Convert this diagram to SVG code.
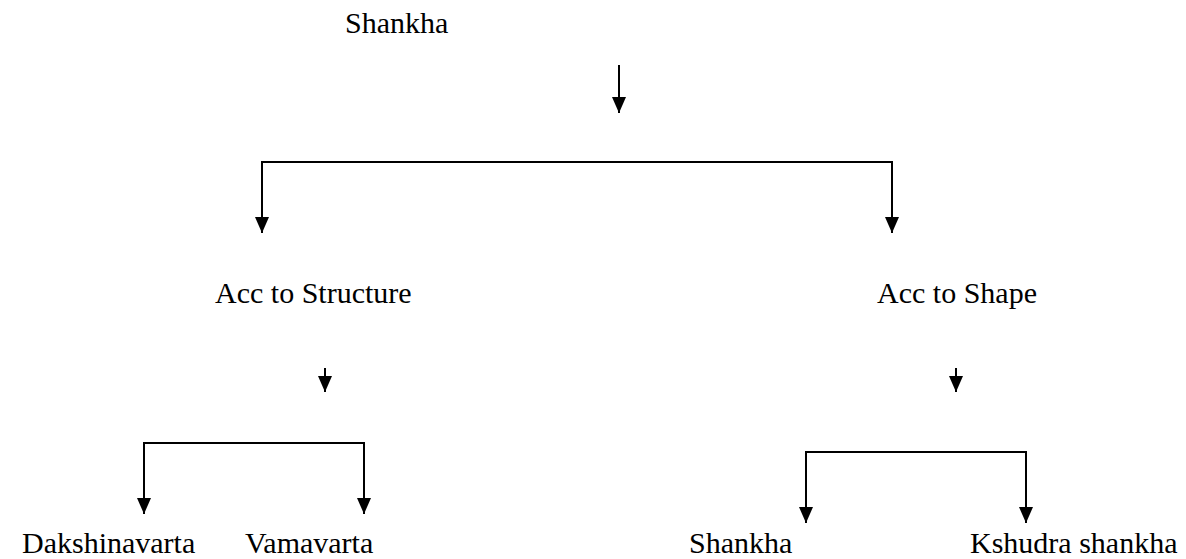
<svg xmlns="http://www.w3.org/2000/svg" width="1186" height="559" viewBox="0 0 1186 559">
<style>
text{font-family:"Liberation Serif","Times New Roman",serif;font-size:30px;fill:#000}
.c{fill:none;stroke:#000;stroke-width:2}
</style>
<defs>
<marker id="ah" markerUnits="userSpaceOnUse" markerWidth="16" markerHeight="14" viewBox="0 0 16 14" refX="16" refY="7" orient="auto">
<path d="M0,0 L16,7 L0,14 Z" fill="#000"/>
</marker>
</defs>
<rect width="1186" height="559" fill="#fff"/>
<g id="connectors">
<path class="c" d="M619,65 V113" marker-end="url(#ah)"/>
<path class="c" d="M262,233 V162 H892 V233" marker-end="url(#ah)"/>
<path class="c" d="M262,162 V233" marker-end="url(#ah)"/>
<path class="c" d="M325,368 V392" marker-end="url(#ah)"/>
<path class="c" d="M956,368 V392" marker-end="url(#ah)"/>
<path class="c" d="M364,514 V443 H144 V514" marker-end="url(#ah)"/>
<path class="c" d="M364,443 V514" marker-end="url(#ah)"/>
<path class="c" d="M1026,523 V452 H806 V523" marker-end="url(#ah)"/>
<path class="c" d="M1026,452 V523" marker-end="url(#ah)"/>
</g>
<g id="n-shankha"><text x="345" y="33">Shankha</text></g>
<g id="n-structure"><text x="215" y="303">Acc to Structure</text></g>
<g id="n-shape"><text x="877" y="303">Acc to Shape</text></g>
<g id="n-dakshinavarta"><text x="22" y="553">Dakshinavarta</text></g>
<g id="n-vamavarta"><text x="245" y="553">Vamavarta</text></g>
<g id="n-shankha2"><text x="689" y="553">Shankha</text></g>
<g id="n-kshudra"><text x="970" y="553">Kshudra shankha</text></g>
</svg>
